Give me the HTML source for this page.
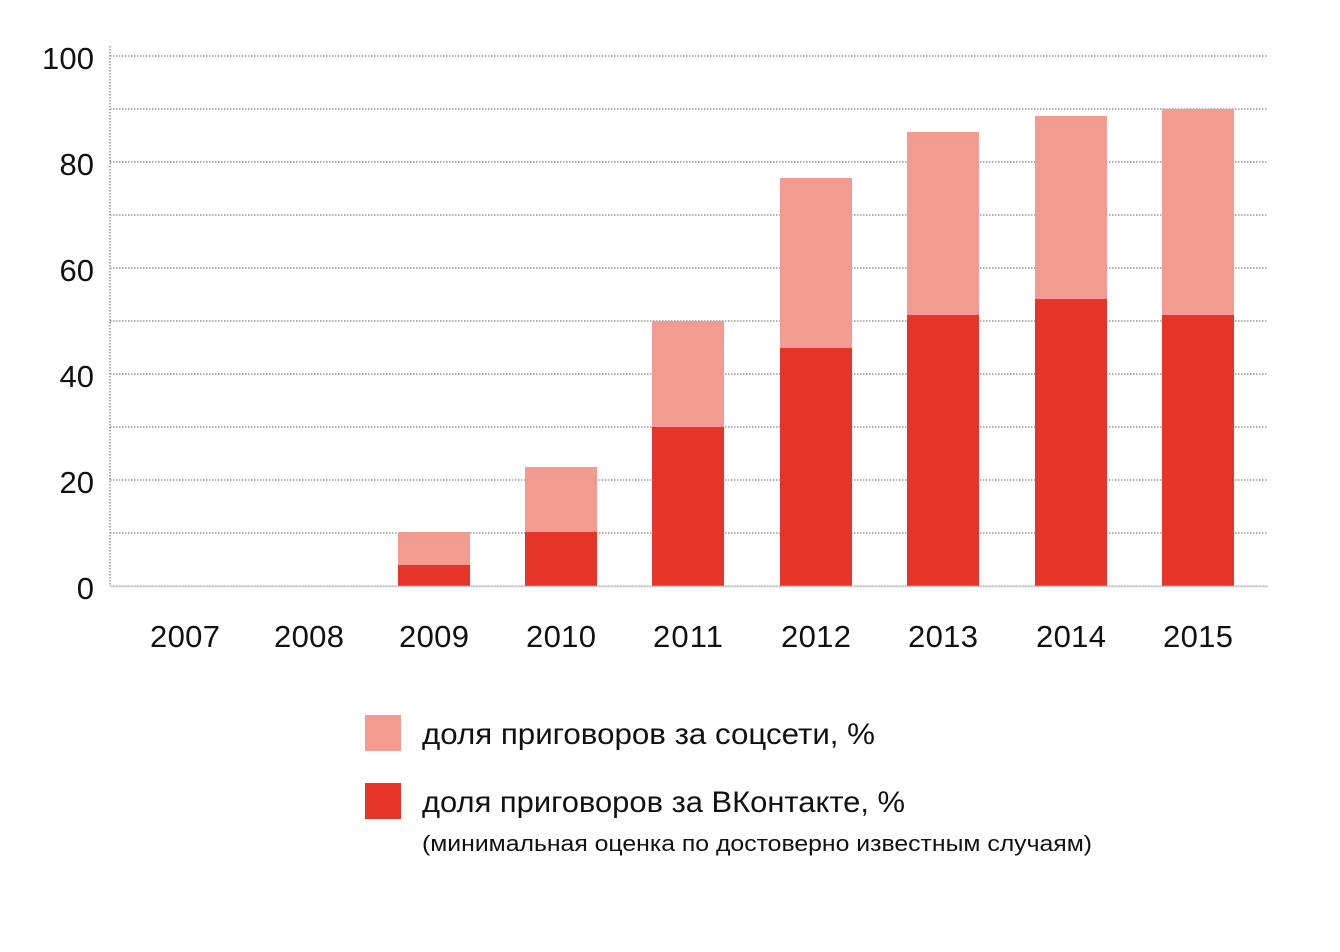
<!DOCTYPE html>
<html><head><meta charset="utf-8"><style>body{margin:0;background:#fff}svg{display:block}text{font-family:"Liberation Sans",sans-serif;fill:#111}</style></head>
<body>
<svg width="1340" height="952" xmlns="http://www.w3.org/2000/svg">
<g stroke="#666" stroke-width="1" stroke-dasharray="1.5,1.5">
<line x1="110" y1="46" x2="110" y2="586"/>
<line x1="110" y1="56" x2="1268" y2="56"/>
<line x1="110" y1="109" x2="1268" y2="109"/>
<line x1="110" y1="162" x2="1268" y2="162"/>
<line x1="110" y1="215" x2="1268" y2="215"/>
<line x1="110" y1="268" x2="1268" y2="268"/>
<line x1="110" y1="321" x2="1268" y2="321"/>
<line x1="110" y1="374" x2="1268" y2="374"/>
<line x1="110" y1="427" x2="1268" y2="427"/>
<line x1="110" y1="480" x2="1268" y2="480"/>
<line x1="110" y1="533" x2="1268" y2="533"/>
<line x1="110" y1="586" x2="1268" y2="586"/>
</g>
<g fill="#f39b90">
<rect x="398" y="532" width="72" height="54"/>
<rect x="525" y="467" width="72" height="119"/>
<rect x="652" y="321" width="72" height="265"/>
<rect x="780" y="178" width="72" height="408"/>
<rect x="907" y="132" width="72" height="454"/>
<rect x="1035" y="116" width="72" height="470"/>
<rect x="1162" y="109" width="72" height="477"/>
</g>
<g fill="#e63528">
<rect x="398" y="565" width="72" height="21"/>
<rect x="525" y="532" width="72" height="54"/>
<rect x="652" y="427" width="72" height="159"/>
<rect x="780" y="348" width="72" height="238"/>
<rect x="907" y="315" width="72" height="271"/>
<rect x="1035" y="299" width="72" height="287"/>
<rect x="1162" y="315" width="72" height="271"/>
</g>
<line x1="110" y1="586.5" x2="1268" y2="586.5" stroke="#ccc" stroke-width="1.5"/>
<g font-size="31" text-anchor="end">
<text x="94" y="69" textLength="52">100</text><text x="94" y="175">80</text><text x="94" y="281">60</text>
<text x="94" y="387">40</text><text x="94" y="493">20</text><text x="94" y="599">0</text>
</g>
<g font-size="31" text-anchor="middle">
<text x="185" y="647" textLength="70">2007</text><text x="309" y="647" textLength="70">2008</text><text x="434" y="647" textLength="70">2009</text>
<text x="561" y="647" textLength="70">2010</text><text x="688" y="647" textLength="70">2011</text><text x="816" y="647" textLength="70">2012</text>
<text x="943" y="647" textLength="70">2013</text><text x="1071" y="647" textLength="70">2014</text><text x="1198" y="647" textLength="70">2015</text>
</g>
<rect x="365" y="715" width="36" height="36" fill="#f39b90"/>
<rect x="365" y="783" width="36" height="36" fill="#e63528"/>
<text x="422" y="744" font-size="30" textLength="453" lengthAdjust="spacingAndGlyphs">доля приговоров за соцсети, %</text>
<text x="422" y="812" font-size="30" textLength="483" lengthAdjust="spacingAndGlyphs">доля приговоров за ВКонтакте, %</text>
<text x="422" y="851" font-size="22" textLength="670" lengthAdjust="spacingAndGlyphs">(минимальная оценка по достоверно известным случаям)</text>
</svg>
</body></html>
